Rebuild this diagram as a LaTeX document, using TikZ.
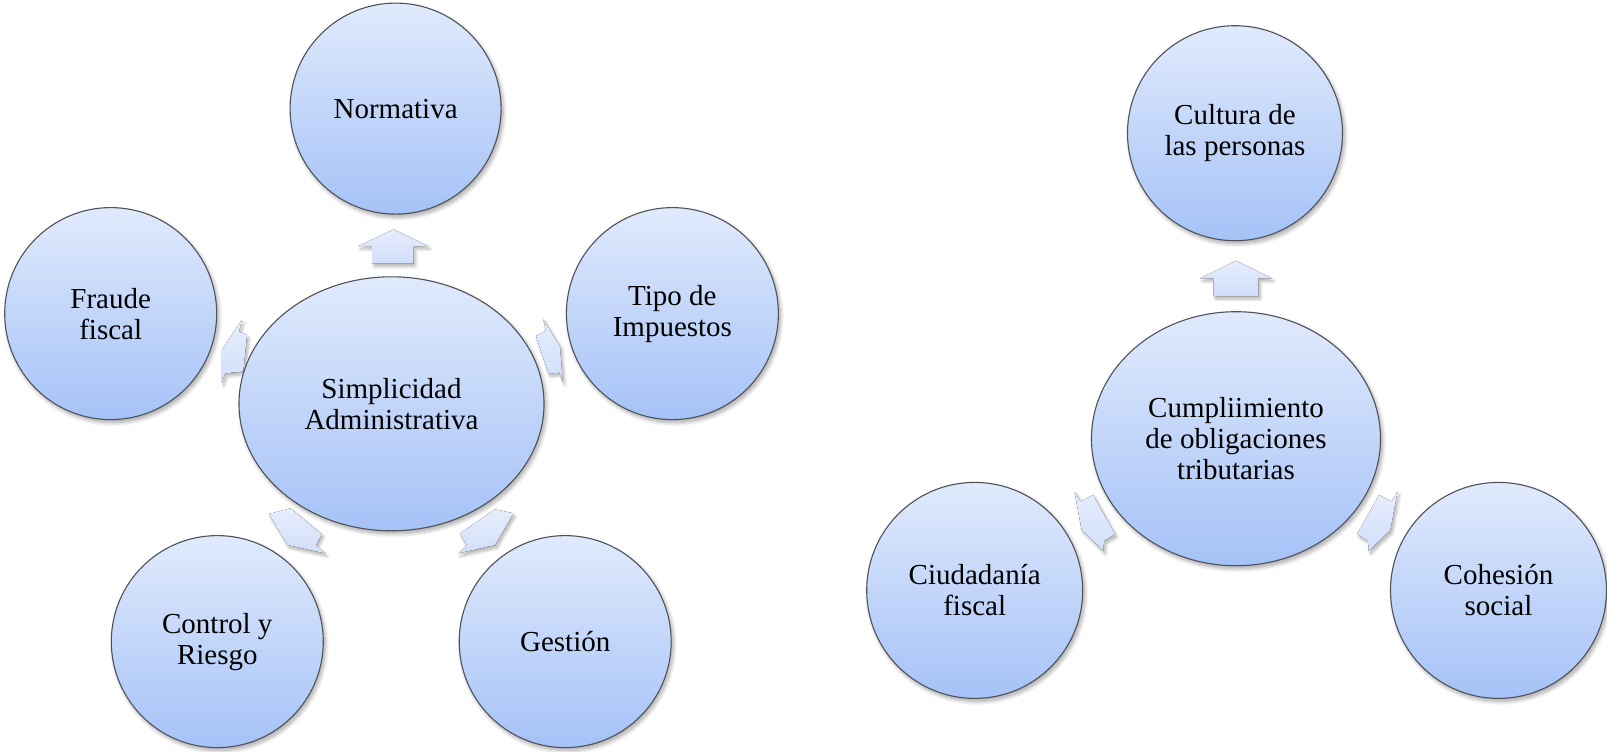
\documentclass[tikz,border=0pt]{standalone}
\usepackage{fontspec}
\setmainfont{Liberation Serif}
\usetikzlibrary{shapes.geometric,shadows.blur}
\definecolor{ctop}{HTML}{E0EAFC}
\definecolor{cbot}{HTML}{A5C2F7}
\definecolor{atop}{HTML}{E6EDFD}
\definecolor{abot}{HTML}{D2DFFA}
\definecolor{cline}{HTML}{4F5258}
\tikzset{
  bubble/.style={circle, draw=cline, line width=1.1pt, top color=ctop, bottom color=cbot,
    minimum size=#1, inner sep=0pt, align=center,
    font=\fontsize{29}{31}\selectfont,
    blur shadow={shadow xshift=2pt, shadow yshift=-3pt, shadow blur radius=4pt, shadow blur steps=8, shadow opacity=35}},
  hub/.style 2 args={ellipse, draw=cline, line width=1.1pt, top color=ctop, bottom color=cbot,
    minimum width=#1, minimum height=#2, inner sep=0pt, align=center,
    font=\fontsize{29}{31}\selectfont,
    blur shadow={shadow xshift=2pt, shadow yshift=-3pt, shadow blur radius=4pt, shadow blur steps=8, shadow opacity=35}},
  blockarrow/.style={top color=atop, bottom color=abot, draw=none,
    blur shadow={shadow xshift=2pt, shadow yshift=-3pt, shadow blur radius=3pt, shadow blur steps=6, shadow opacity=30}}
}
\begin{document}
\begin{tikzpicture}[x=1pt,y=-1pt]
\useasboundingbox (0,0) rectangle (1607,752);
% ---------- left diagram ----------
% arrows
\fill[blockarrow] (393.5,229.5) -- (428,246) -- (413.5,246) -- (413.5,263.5) -- (372,263.5) -- (372,246) -- (358.5,246) -- cycle;
\fill[blockarrow] (241.7,320) -- (239,331.5) -- (247,335) -- (243.3,371.5) -- (225,373.3) -- (221.7,383) -- (221.7,350) -- cycle;
\fill[blockarrow] (543.3,319.3) -- (546,330.7) -- (536,336) -- (548.3,373.3) -- (559.3,372.7) -- (562.7,381.7) -- (560,346.7) -- cycle;
\fill[blockarrow] (269,514) -- (290.5,508.3) -- (321.7,534) -- (316,545) -- (325,553.3) -- (287.5,545) -- cycle;
\fill[blockarrow] (460,533.3) -- (495,509.3) -- (513.3,513.3) -- (495,545) -- (458.3,553.3) -- (466.7,545) -- cycle;
% nodes
\node[hub={305pt}{254pt}] (simp) at (391.5,403.8) {Simplicidad\\Administrativa};
\node[bubble=211pt] (norm) at (395.6,108.6) {Normativa};
\node[bubble=212pt] (fraude) at (110.7,313.6) {Fraude\\fiscal};
\node[bubble=212pt] (tipo) at (672.4,313.6) {Tipo de\\Impuestos};
\node[bubble=212pt] (control) at (217.3,641.6) {Control y\\Riesgo};
\node[bubble=212pt] (gestion) at (565.2,641.6) {Gestión};
% ---------- right diagram ----------
\fill[blockarrow] (1236,260.7) -- (1271.7,278.3) -- (1258.3,278.3) -- (1258.3,296) -- (1213.3,296) -- (1213.3,278.3) -- (1200,278.3) -- cycle;
\fill[blockarrow] (1074.5,491.7) -- (1080.5,501.5) -- (1093,495) -- (1115,534) -- (1104,541) -- (1103.3,551) -- (1081.7,530) -- cycle;
\fill[blockarrow] (1397.5,491.7) -- (1391.5,501.5) -- (1379,495) -- (1357,534) -- (1368,541) -- (1368.7,551) -- (1390.3,530) -- cycle;
\node[hub={289pt}{254pt}] (cumpl) at (1236,438.7) {Cumpliimiento\\de obligaciones\\tributarias};
\node[bubble=215pt] (cultura) at (1235,133.2) {Cultura de\\las personas};
\node[bubble=216pt] (ciud) at (974.7,590.4) {Ciudadanía\\fiscal};
\node[bubble=216pt] (cohes) at (1498.5,590.4) {Cohesión\\social};
\end{tikzpicture}
\end{document}
